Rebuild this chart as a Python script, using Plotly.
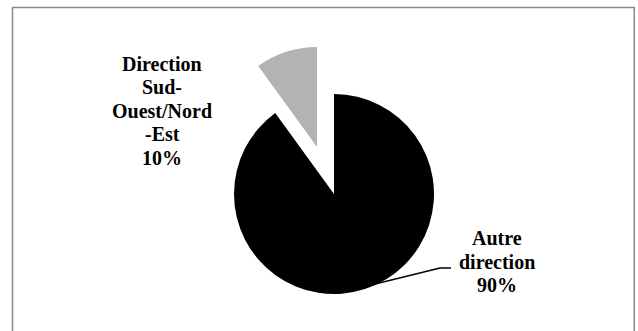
import plotly.graph_objects as go

# ---- data ----
labels = ["Autre direction", "Direction Sud-Ouest/Nord-Est"]
values = [90, 10]
colors = ["#000000", "#b3b3b3"]
label_words = [["Autre", "direction"], ["Direction", "Sud-", "Ouest/Nord", "-Est"]]

W, H = 638, 331

def px_domain(cx, cy, r):
    return dict(x=[(cx - r) / W, (cx + r) / W], y=[1 - (cy + r) / H, 1 - (cy - r) / H])

# slice centres (px): main pie and the exploded slice
centres = [(334, 194), (317, 147)]
R = 100

fig = go.Figure()
for i, col in enumerate(colors):
    fig.add_trace(go.Pie(
        labels=labels, values=values, sort=False, direction="clockwise", rotation=0,
        marker=dict(colors=[col if j == i else "rgba(0,0,0,0)" for j in range(len(values))],
                    line=dict(width=0)),
        textinfo="none", hoverinfo="skip", showlegend=False,
        domain=px_domain(centres[i][0], centres[i][1], R),
    ))

total = sum(values)
pct = [f"{round(v / total * 100)}%" for v in values]

font = dict(family="Liberation Serif", size=20, color="#000000", weight="bold")
label_pos = [(497, [238, 261.5, 285]), (162, [63.6, 87.2, 110.8, 134.4, 158])]
annotations = []
for i in range(len(values)):
    lines = label_words[i] + [pct[i]]
    x, ys = label_pos[i]
    for line, y in zip(lines, ys):
        annotations.append(dict(text=line, x=x / W, y=1 - y / H, xref="paper", yref="paper",
                                xanchor="center", yanchor="middle", showarrow=False, font=font))

shapes = [
    dict(type="rect", xref="paper", yref="paper", x0=12.5 / W, x1=634.3 / W, y0=-0.2, y1=1 - 7.5 / H,
         line=dict(color="#8a8a8a", width=1.5), fillcolor="rgba(0,0,0,0)", layer="below"),
    dict(type="path", xref="paper", yref="paper",
         path=f"M {367/W},{1-286/H} L {440/W},{1-268/H} L {451/W},{1-268/H}",
         line=dict(color="#000000", width=1.5)),
]

fig.update_layout(width=W, height=H, margin=dict(l=0, r=0, t=0, b=0),
                  paper_bgcolor="white", plot_bgcolor="white",
                  annotations=annotations, shapes=shapes, showlegend=False)
fig.write_html("out.html")
